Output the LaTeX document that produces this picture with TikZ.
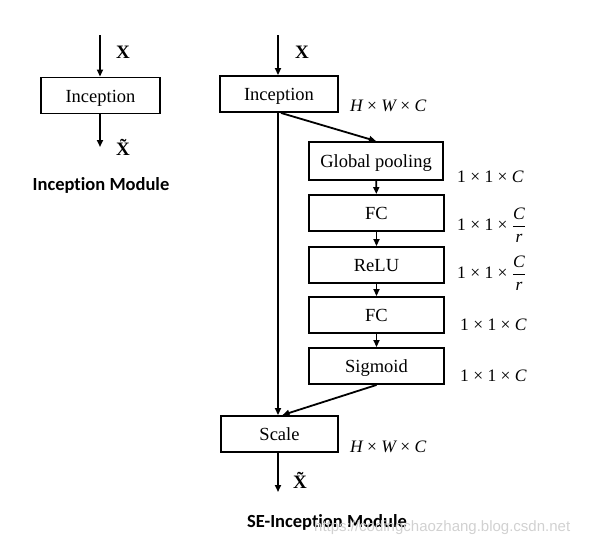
\documentclass[tikz,border=0pt]{standalone}
\usepackage{fontspec}
\setmainfont{Liberation Serif}
\newfontfamily\titlefont[Ligatures=NoCommon]{Carlito}
\newfontfamily\markfont{Liberation Sans}
\usetikzlibrary{arrows.meta}

\tikzset{
    block/.style={draw, line width=1.9pt, minimum height=36pt, inner sep=0pt,
        text height=15.5pt, text depth=2pt, font=\fontsize{18.5}{20}\selectfont},
    flow/.style={line width=1.8pt, -{Triangle[length=7pt,width=6pt]}},
    dims/.style={anchor=west, inner sep=0pt, font=\fontsize{17.5}{20}\selectfont},
    sym/.style={inner sep=0pt, font=\fontsize{19}{20}\selectfont\bfseries},
    caption/.style={inner sep=0pt, font=\fontsize{18.5}{20}\selectfont\titlefont\bfseries}
}
\newcommand{\ratio}{1 × 1 × $\displaystyle\frac{\mbox{\itshape C}}{\mbox{\itshape r}}$}

\begin{document}
\begin{tikzpicture}[x=1pt, y=-1pt]
    \useasboundingbox (0,0) rectangle (597,547);

    % Plain inception module
    \coordinate (inA) at (100,35);
    \node[block, minimum width=119pt] (incA) at (100.5,95.5) {Inception};
    \coordinate (outA) at (100,147);
    \draw[flow] (inA) -- (incA.north -| inA);
    \draw[flow] (incA.south -| outA) -- (outA);
    \node[sym] (xA) at (123,52) {X};
    \node[sym] (xtA) at (123,147) {\~{X}};
    \node[caption] (capA) at (101,185) {Inception Module};

    % SE-inception module, main path
    \coordinate (inB) at (278,35);
    \node[block, minimum width=118pt] (incB) at (279,94) {Inception};
    \node[block, minimum width=117pt] (scale) at (279.5,434) {Scale};
    \coordinate (outB) at (278,492);
    \draw[flow] (inB) -- (incB.north -| inB);
    \draw[flow] (incB.south -| inB) -- (scale.north -| inB);
    \draw[flow] (scale.south -| outB) -- (outB);
    \node[sym] (xB) at (302,52) {X};
    \node[sym] (xtB) at (300,480) {\~{X}};

    % squeeze and excitation branch
    \node[block, minimum width=134pt, minimum height=38pt] (pool) at (376,161) {Global pooling};
    \node[block, minimum width=135pt] (fcA) at (376.5,213) {FC};
    \node[block, minimum width=135pt] (relu) at (376.5,265) {ReLU};
    \node[block, minimum width=135pt] (fcB) at (376.5,315) {FC};
    \node[block, minimum width=135pt] (sig) at (376.5,366) {Sigmoid};
    \draw[flow] ([xshift=2pt]incB.south) -- (pool.north);
    \draw[flow] (pool) -- (fcA);
    \draw[flow] (fcA) -- (relu);
    \draw[flow] (relu) -- (fcB);
    \draw[flow] (fcB) -- (sig);
    \draw[flow] (sig.south) -- ([xshift=3pt]scale.north);

    % Sizes
    \node[dims] (dimInc) at (350,106) {\itshape H \upshape× \itshape W \upshape× \itshape C};
    \node[dims] (dimPool) at (457,177) {1 × 1 × \itshape C};
    \node[dims] (dimFcA) at (457,225) {\ratio};
    \node[dims] (dimRelu) at (457,273) {\ratio};
    \node[dims] (dimFcB) at (460,325) {1 × 1 × \itshape C};
    \node[dims] (dimSig) at (460,376) {1 × 1 × \itshape C};
    \node[dims] (dimScale) at (350,447) {\itshape H \upshape× \itshape W \upshape× \itshape C};

    \node[caption] (capB) at (327,522) {SE-Inception Module};
    \node[anchor=west, inner sep=0pt, text=black!18, font=\fontsize{15}{18}\selectfont\markfont] (mark) at (314,528) {https://codingchaozhang.blog.csdn.net};
\end{tikzpicture}
\end{document}
